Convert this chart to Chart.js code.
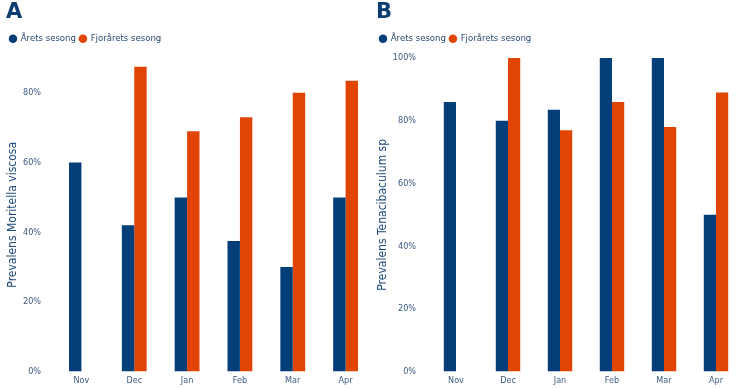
<!DOCTYPE html>
<html>
<head>
<meta charset="utf-8">
<script src="https://cdn.jsdelivr.net/npm/chart.js@4"></script>
<style>
  html, body { margin: 0; padding: 0; background: #fff; overflow: hidden; }
  body { width: 738px; height: 388px; position: relative; }
  .wrap { position: absolute; top: 0; height: 391px; }
</style>
</head>
<body>
<div class="wrap" style="left:0;width:372px"><canvas id="chartA"></canvas></div>
<div class="wrap" style="left:370px;width:372px"><canvas id="chartB"></canvas></div>
<script>
// Måneder i sesongen
const months = ['Nov', 'Dec', 'Jan', 'Feb', 'Mar', 'Apr'];

// A: Prevalens Moritella viscosa
const moritellaAret = [0.60, 0.42, 0.50, 0.375, 0.30, 0.50];
const moritellaFjor = [null, 0.875, 0.69, 0.73, 0.80, 0.835];

// B: Prevalens Tenacibaculum sp
const tenaciAret = [0.86, 0.80, 0.835, 1.00, 1.00, 0.50];
const tenaciFjor = [null, 1.00, 0.77, 0.86, 0.78, 0.89];

const seriesNames = ['Årets sesong', 'Fjorårets sesong'];

const blue = '#033e78';
const orange = '#e04506';
const fontFamily = '"DejaVu Sans Condensed", "DejaVu Sans", sans-serif';

function lagDiagram(id, tittel, aksetittel, aret, fjor, maks, yBredde) {
    const ctx = document.getElementById(id).getContext('2d');
    return new Chart(ctx, {
        type: 'bar',
        data: {
            labels: months,
            datasets: [
                { label: seriesNames[0], data: aret, backgroundColor: blue, categoryPercentage: 0.47, barPercentage: 1.0 },
                { label: seriesNames[1], data: fjor, backgroundColor: orange, categoryPercentage: 0.47, barPercentage: 1.0 }
            ]
        },
        options: {
            responsive: true,
            maintainAspectRatio: false,
            animation: false,
            layout: { padding: { left: 6, right: 0, top: 0, bottom: 0 } },
            plugins: {
                tooltip: { enabled: false },
                title: {
                    display: true,
                    text: tittel,
                    align: 'start',
                    color: '#0b3d70',
                    font: { family: '"DejaVu Sans", sans-serif', size: 21, weight: 'bold', lineHeight: 1 },
                    padding: { top: 2, bottom: 7 }
                },
                // tom undertittel under legenden, bare for luft over plottet
                subtitle: {
                    display: true,
                    text: '',
                    weight: 500,
                    font: { size: 1, lineHeight: 1 },
                    padding: { top: 0, bottom: 3.5 }
                },
                legend: {
                    display: true,
                    align: 'start',
                    labels: {
                        usePointStyle: true,
                        pointStyle: 'circle',
                        boxWidth: 6,
                        boxHeight: 6,
                        padding: 4,
                        color: '#2a4a70',
                        font: { family: fontFamily, size: 9.5 }
                    }
                }
            },
            scales: {
                x: {
                    grid: { display: false, drawTicks: false },
                    border: { display: false },
                    ticks: { color: '#3b5b82', font: { family: fontFamily, size: 9 }, padding: 4 },
                    afterFit: s => { s.height = 14; }
                },
                y: {
                    min: 0,
                    max: maks,
                    grid: { display: false, drawTicks: false },
                    border: { display: false },
                    title: {
                        display: true,
                        text: aksetittel,
                        color: '#1d4a7a',
                        font: { family: fontFamily, size: 12 },
                        padding: 0
                    },
                    ticks: {
                        stepSize: 0.2,
                        includeBounds: false,
                        padding: 14,
                        color: '#3b5b82',
                        font: { family: fontFamily, size: 9 },
                        callback: v => Math.round(v * 100) + '%'
                    },
                    afterFit: s => { s.width = yBredde; }
                }
            }
        }
    });
}

lagDiagram('chartA', 'A', 'Prevalens Moritella viscosa', moritellaAret, moritellaFjor, 0.9, 49);
lagDiagram('chartB', 'B', 'Prevalens Tenacibaculum sp', tenaciAret, tenaciFjor, 1.0, 54);
</script>
</body>
</html>
